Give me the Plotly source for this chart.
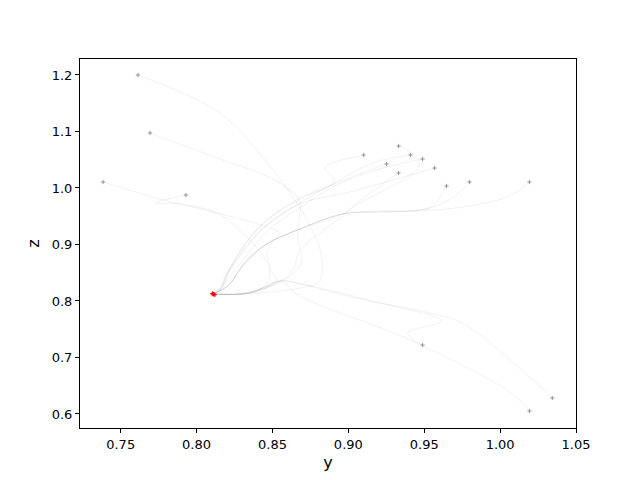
import plotly.graph_objects as go

# end point where all trajectories settle
end_y = 0.8107
end_z = 0.8124

# trajectories (y, z), starting point first
traj_y = [
    [0.7614, 0.8153, 0.8482, 0.8713, 0.8824, 0.8811, 0.8680, 0.8417, 0.8206],
    [0.7693, 0.8134, 0.8528, 0.8680, 0.8680, 0.8666, 0.8693, 0.8634, 0.8548, 0.8351],
    [0.7384, 0.7805, 0.8134, 0.8502, 0.8548, 0.8495, 0.8463, 0.8495, 0.8528, 0.8417, 0.8331],
    [0.7930, 0.7726, 0.7910, 0.8173, 0.8285, 0.8417, 0.8482, 0.8450, 0.8285],
    [0.9101, 0.8844, 0.8910, 0.8680, 0.8450, 0.8305, 0.8206, 0.8160],
    [0.9252, 0.9074, 0.8877, 0.8680, 0.8463, 0.8318, 0.8219, 0.8160],
    [0.9331, 0.9403, 0.9469, 0.9423, 0.9291, 0.9074, 0.8963, 0.8680, 0.8463, 0.8318, 0.8206],
    [0.9410, 0.9160, 0.8897, 0.8680, 0.8450, 0.8305, 0.8199, 0.8140],
    [0.9489, 0.9226, 0.8910, 0.8680, 0.8470, 0.8330, 0.8225, 0.8150],
    [0.9331, 0.9226, 0.9074, 0.8943, 0.8680, 0.8634, 0.8548, 0.8350],
    [0.9568, 0.9337, 0.9010, 0.8680, 0.8440, 0.8300, 0.8200, 0.8145],
    [0.9647, 0.9555, 0.9403, 0.9206, 0.8963, 0.8680, 0.8463, 0.8318, 0.8206],
    [0.9798, 0.9700, 0.9515, 0.9206, 0.8963, 0.8680, 0.8463, 0.8318, 0.8206],
    [1.0193, 1.0061, 0.9798, 0.9469, 0.9206, 0.8963, 0.8680, 0.8463, 0.8318, 0.8206],
    [0.9489, 0.9390, 0.9614, 0.9206, 0.8660, 0.8548, 0.8417, 0.8285],
    [1.0193, 1.0081, 0.9423, 0.8680, 0.8548, 0.8450, 0.8285],
    [1.0344, 1.0081, 0.9752, 0.9535, 0.8989, 0.8660, 0.8548, 0.8351],
]
traj_z = [
    [1.2000, 1.1327, 1.0389, 0.9504, 0.8796, 0.8354, 0.8230, 0.8142, 0.8124],
    [1.0973, 1.0531, 1.0124, 0.9770, 0.9540, 0.9115, 0.8708, 0.8478, 0.8340, 0.8142],
    [1.0106, 0.9770, 0.9558, 0.9274, 0.9186, 0.9027, 0.8832, 0.8531, 0.8354, 0.8212, 0.8124],
    [0.9876, 0.9735, 0.9717, 0.9504, 0.9239, 0.8885, 0.8531, 0.8265, 0.8124],
    [1.0584, 1.0354, 1.0124, 0.9800, 0.9400, 0.8950, 0.8520, 0.8200],
    [1.0425, 1.0248, 1.0035, 0.9823, 0.9435, 0.9000, 0.8550, 0.8220],
    [1.0743, 1.0655, 1.0425, 1.0248, 1.0035, 0.9735, 0.9540, 0.9274, 0.9009, 0.8673, 0.8265],
    [1.0584, 1.0442, 1.0071, 0.9735, 0.9320, 0.8890, 0.8480, 0.8180],
    [1.0513, 1.0354, 1.0035, 0.9646, 0.9250, 0.8800, 0.8450, 0.8180],
    [1.0265, 1.0071, 0.9770, 0.9469, 0.8885, 0.8550, 0.8340, 0.8140],
    [1.0354, 1.0177, 0.9930, 0.9717, 0.9280, 0.8850, 0.8450, 0.8170],
    [1.0035, 0.9681, 0.9593, 0.9575, 0.9540, 0.9274, 0.9009, 0.8673, 0.8265],
    [1.0106, 0.9850, 0.9628, 0.9575, 0.9540, 0.9274, 0.9009, 0.8673, 0.8265],
    [1.0106, 0.9858, 0.9681, 0.9593, 0.9593, 0.9540, 0.9274, 0.9009, 0.8673, 0.8265],
    [0.7221, 0.7434, 0.7646, 0.7965, 0.8319, 0.8354, 0.8212, 0.8124],
    [0.6053, 0.6354, 0.7292, 0.8088, 0.8354, 0.8230, 0.8124],
    [0.6283, 0.6920, 0.7611, 0.7788, 0.8088, 0.8319, 0.8354, 0.8142],
]

# red points at the end of the runs
red_y = [0.8104, 0.8110, 0.8116, 0.8120, 0.8108]
red_z = [0.8130, 0.8122, 0.8115, 0.8110, 0.8126]

fig = go.Figure()

for ty, tz in zip(traj_y, traj_z):
    fig.add_trace(go.Scatter(
        x=ty + [end_y],
        y=tz + [end_z],
        mode='lines',
        line=dict(color='rgba(150,150,150,0.2)', width=0.7, shape='spline', smoothing=1.0),
        hoverinfo='skip',
        showlegend=False
    ))

fig.add_trace(go.Scatter(
    x=[t[0] for t in traj_y],
    y=[t[0] for t in traj_z],
    mode='markers',
    marker=dict(symbol='cross-thin', size=3, line=dict(color='#808080', width=0.8)),
    showlegend=False
))

fig.add_trace(go.Scatter(
    x=red_y,
    y=red_z,
    mode='markers',
    marker=dict(symbol='cross-thin', size=3, line=dict(color='red', width=1.2)),
    showlegend=False
))

axis_style = dict(
    showline=True, linecolor='black', linewidth=1, mirror=True,
    ticks='outside', ticklen=4, tickcolor='black',
    showgrid=False, zeroline=False,
    tickfont=dict(family='DejaVu Sans', size=13, color='black'),
)

# page body has an 8px margin, so the margins are shifted to compensate
fig.update_layout(
    width=640, height=480,
    margin=dict(l=72, r=72, t=51, b=60),
    paper_bgcolor='white', plot_bgcolor='white',
    font=dict(family='DejaVu Sans', size=13, color='black'),
    xaxis=dict(range=[0.7232, 1.05], dtick=0.05, tick0=0.75, tickformat='.2f',
               title=dict(text='y', standoff=6), **axis_style),
    yaxis=dict(range=[0.5752, 1.2283], dtick=0.1, tick0=0.6, tickformat='.1f',
               title=dict(text='z', standoff=8), **axis_style),
)

fig.write_html("out.html")
